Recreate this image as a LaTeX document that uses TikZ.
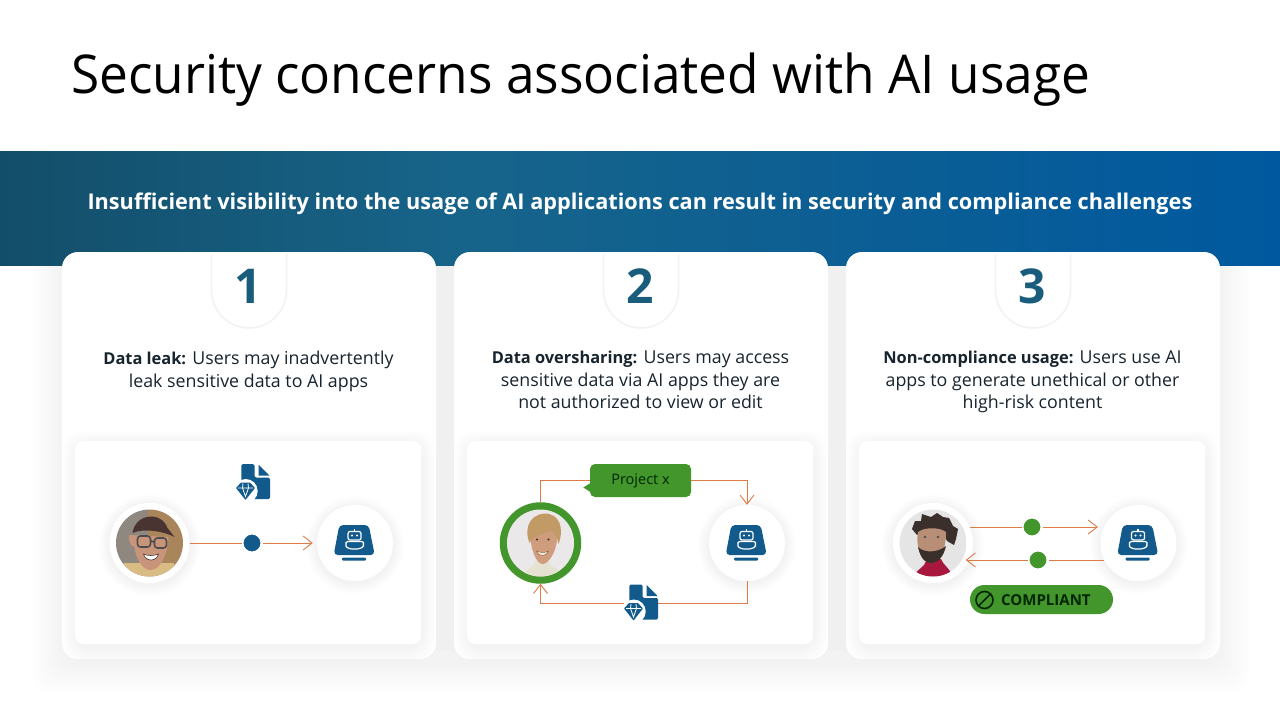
\documentclass[tikz,border=0pt]{standalone}
\usepackage{fontspec}
\setmainfont{Open Sans}
\newfontfamily\titlefont[FakeStretch=.96]{Open Sans}
\usetikzlibrary{arrows.meta}
\definecolor{blueA}{HTML}{125A8C}
\definecolor{numblue}{HTML}{195C7C}
\definecolor{greenA}{HTML}{43962B}
\definecolor{flowc}{HTML}{DE7B46}
\definecolor{inkc}{HTML}{17242E}
\definecolor{bandL}{HTML}{134E69}
\definecolor{bandM}{HTML}{17648A}
\definecolor{bandR}{HTML}{00599F}
\pgfdeclarehorizontalshading{bandshade}{100bp}{color(0bp)=(bandL); color(25bp)=(bandL); color(43bp)=(bandM); color(75bp)=(bandR); color(100bp)=(bandR)}
\tikzstyle{band} = [minimum width=1280pt, minimum height=114.6pt, inner sep=0pt, shading=bandshade]
\tikzstyle{bandtext} = [text=white, inner sep=0pt, anchor=base, font=\fontsize{21.7}{27}\selectfont\bfseries]
\tikzstyle{card} = [fill=white, rounded corners=16pt, minimum width=374pt, minimum height=407pt, inner sep=0pt]
\tikzstyle{panel} = [fill=white, rounded corners=8pt, minimum width=346pt, minimum height=203pt, inner sep=0pt]
\tikzstyle{cardtext} = [anchor=north, align=center, inner sep=0pt, text=inkc, font=\fontsize{17.8}{22.5}\selectfont]
\tikzstyle{cardnum} = [text=numblue, font=\fontsize{48}{48}\selectfont\bfseries, inner sep=0pt]
\tikzstyle{avatar} = [circle, fill=white, minimum size=80pt, inner sep=0pt]
\tikzstyle{botnode} = [circle, fill=white, minimum size=76pt, inner sep=0pt]
\tikzstyle{bluedot} = [circle, fill=blueA, draw=white, line width=2pt, minimum size=19pt, inner sep=0pt]
\tikzstyle{greendot} = [circle, fill=greenA, draw=white, line width=2pt, minimum size=19pt, inner sep=0pt]
\tikzstyle{docbox} = [minimum width=34pt, minimum height=36pt, inner sep=0pt]
\tikzstyle{flow} = [draw=flowc, line width=0.9pt]
\tikzstyle{flowarrow} = [flow, -{Straight Barb[length=9pt,width=14pt]}]

\newcommand{\leadin}[1]{{\fontsize{16.4}{22.5}\selectfont\bfseries #1}}

% soft shadows, built up from thin layers
\newcommand{\softrect}[6]{\foreach \s in {1,...,12}{\fill[black,opacity=#6,rounded corners=18pt] ({#1-#5*\s/12},{#2-#5*\s/12+4}) rectangle ({#3+#5*\s/12},{#4+#5*\s/12+4});}}
\newcommand{\softdisc}[3]{\foreach \s in {1,...,6}{\fill[black,opacity=.007] (#1,#2+2) circle ({#3+\s*1.8});}}

\newcommand{\boticon}[2]{\begin{scope}[shift={(#1,#2)}]
    \fill[blueA, rounded corners=4pt] (-15.7,-18) -- (13.7,-18) -- (19.7,12) -- (-21.3,12) -- cycle;
    \fill[blueA, rounded corners=1pt] (-13,14.5) rectangle (11,17.5);
    \draw[white, line width=1.2pt, rounded corners=2pt] (-7,-11.5) rectangle (6,-3);
    \draw[white, line width=1.2pt] (-.5,-11.5) -- (-.5,-14);
    \fill[white] (-3,-7.5) circle (1.2) (2,-7.5) circle (1.2);
    \draw[white, line width=1.2pt, rounded corners=2pt] (-9,-1.5) -- (8.5,-1.5) -- (8.5,1) .. controls (8,5) and (3,6) .. (-.5,6) .. controls (-4,6) and (-9,5) .. (-9,1) -- cycle;
\end{scope}}

\newcommand{\docicon}[2]{\begin{scope}[shift={(#1,#2)}]
    \fill[blueA, rounded corners=1.5pt] (-11.7,-17.5) -- (1.5,-17.5) -- (1.5,-7) .. controls (1.5,-5) and (3,-4) .. (5,-4) -- (17,-4) -- (17,17.5) -- (-11.7,17.5) -- cycle;
    \fill[blueA] (5.5,-17) -- (16.5,-6) -- (5.5,-6) -- cycle;
    \fill[white] (-7.3,9.5) circle (12);
    \fill[blueA, rounded corners=.6pt] (-12,1) -- (-3,1) -- (2,6.5) -- (-7.5,18.5) -- (-17,6.5) -- cycle;
    \draw[white, line width=.8pt] (-15,6.5) -- (0,6.5) (-10,2) -- (-10.5,6.5) -- (-7.5,15) -- (-4.5,6.5) -- (-5,2);
\end{scope}}

\begin{document}
\begin{tikzpicture}[x=1pt, y=-1pt]
    \useasboundingbox (0,0) rectangle (1280,720);
    \fill[white] (0,0) rectangle (1280,720);

    \node[anchor=base west, inner sep=0pt, font=\titlefont\fontsize{53.5}{60}\selectfont] (title) at (71,93) {Security concerns associated with AI usage};

    % one shadow under the whole row of cards, darker in the gaps
    \softrect{62}{252}{1220}{659}{30}{.005}
    \fill[left color=black!6, middle color=black!14, right color=black!6] (436,240) rectangle (454,650);
    \fill[left color=black!6, middle color=black!14, right color=black!6] (828,240) rectangle (846,650);

    \node[band] (band) at (640,208.3) {};
    \node[bandtext] (bandline) at (640,209) {Insufficient visibility into the usage of AI applications can result in security and compliance challenges};

    \foreach \i/\x in {1/249, 2/641, 3/1033} {
        \node[card] (card\i) at (\x,455.5) {};
        \softrect{\x-172}{441}{\x+172}{644}{14}{.004}
        \node[panel] (panel\i) at (\x-.8,542.5) {};
        \draw[fill=white, draw=black!5, line width=1.5pt] (\x-37.5,254) -- (\x-37.5,290.5) arc (180:0:37.5) -- (\x+37.5,254);
        \node[cardnum] (num\i) at (\x-1,286) {\i};
    }

    \node[cardtext] (text1) at (248.5,351) {\leadin{Data leak:} Users may inadvertently\\leak sensitive data to AI apps};
    \node[cardtext] (text2) at (640.5,351) {\leadin{Data oversharing:} Users may access\\sensitive data via AI apps they are\\not authorized to view or edit};
    \node[cardtext] (text3) at (1032.5,351) {\leadin{Non-compliance usage:} Users use AI\\apps to generate unethical or other\\high-risk content};

    % panel 1
    \softdisc{149.5}{543}{40}
    \softdisc{355}{543}{38}
    \node[avatar] (user1) at (149.5,543) {};
    \node[botnode] (bot1) at (355,543) {};
    \definecolor{bgA}{HTML}{8E8880}
    \definecolor{bgB}{HTML}{A9855C}
    \definecolor{shirtA}{HTML}{D8BC84}
    \definecolor{skinA}{HTML}{C9957A}
    \definecolor{capA}{HTML}{4A3432}
    \begin{scope}[shift={(149.5,543)}]
        \clip (0,0) circle (33.5);
        \fill[bgA] (-34,-34) rectangle (-2,34);
        \fill[bgB] (-2,-34) rectangle (34,34);
        \fill[shirtA] (-26,20) rectangle (24,34);
        \fill[skinA] (-20,-8) .. controls (-22,-4) and (-19,4) .. (-15,4) .. controls (-14,14) and (-8,27) .. (1,27) .. controls (11,27) and (18,12) .. (19,-6) -- cycle;
        \fill[capA] (-17,-10) .. controls (-14,-30) and (12,-32) .. (18,-15) -- (25,-6) .. controls (14,-12) and (-6,-15) .. (-17,-10) -- cycle;
        \draw[black!70, line width=1.6pt, rounded corners=3pt] (-12,-7) rectangle (1,4) (5,-5) rectangle (17,5) (1,-2) -- (5,-1);
        \fill[white, draw=capA, line width=.6pt] (-6,11) .. controls (-2,13) and (4,13) .. (9,11) .. controls (7,19) and (-4,19) .. (-6,11) -- cycle;
    \end{scope}
    \node[bluedot] (dot1) at (252,543) {};
    \draw[flow] (user1) -- (dot1);
    \draw[flowarrow, shorten >=4pt] (dot1) -- (bot1.west);
    \boticon{355}{543}
    \node[docbox] (doc1) at (253,481.5) {};
    \docicon{253}{481.5}

    % panel 2
    \softdisc{747}{543}{38}
    \node[avatar, draw=greenA, line width=7.5pt, minimum size=74pt] (user2) at (540.5,543) {};
    \node[botnode] (bot2) at (747,543) {};
    \definecolor{bgC}{HTML}{EBE8EA}
    \definecolor{shirtC}{HTML}{E6E2D2}
    \definecolor{skinC}{HTML}{D09C7E}
    \definecolor{hairC}{HTML}{C29A66}
    \begin{scope}[shift={(540.5,543)}]
        \clip (0,0) circle (33.5);
        \fill[bgC] (-34,-34) rectangle (34,34);
        \fill[shirtC] (-20,34) .. controls (-14,25) and (-5,24) .. (-5,18) -- (8,18) .. controls (8,24) and (18,25) .. (25,34) -- cycle;
        \fill[skinC] (-10,-13) .. controls (-11,6) and (-4,21) .. (2,21) .. controls (9,21) and (18,6) .. (17,-13) -- cycle;
        \fill[hairC] (-11,0) .. controls (-16,-12) and (-13,-28) .. (4,-29.5) .. controls (19,-29.5) and (24,-15) .. (18,1) .. controls (17,-6) and (14,-11) .. (10,-13) .. controls (4,-8) and (-6,-10) .. (-11,0) -- cycle;
        \fill[black!65!brown] (-3.5,-3.5) circle (1.2) (8,-3.5) circle (1.2);
        \fill[white!85!brown, draw=brown!70!black, line width=.4pt] (-4,8) .. controls (0,10) and (5,10) .. (8,8) .. controls (6,14) and (-2,14) .. (-4,8) -- cycle;
    \end{scope}
    \node[fill=greenA, rounded corners=5pt, minimum width=101pt, minimum height=33pt, inner sep=0pt, text=black!85!green, font=\fontsize{14.5}{17}\selectfont] (bubble) at (640.5,480.5) {Project x};
    \fill[greenA] (590.5,483) -- (583.3,487.5) -- (590.5,492) -- cycle;
    \node[docbox] (doc2) at (641,603) {};
    \draw[flow] (user2.north) |- (bubble.west);
    \draw[flowarrow] (bubble.east) -| (bot2.north);
    \draw[flow] (bot2.south) |- (doc2.east);
    \draw[flowarrow] (doc2.west) -| (user2.south);
    \boticon{747}{543}
    \docicon{641}{602}

    % panel 3
    \softdisc{933}{543}{40}
    \softdisc{1138.5}{543}{38}
    \node[avatar] (user3) at (933,543) {};
    \node[botnode] (bot3) at (1138.5,543) {};
    \definecolor{skinD}{HTML}{B88E76}
    \definecolor{hairD}{HTML}{3A2F2A}
    \definecolor{jacketD}{HTML}{A8173D}
    \begin{scope}[shift={(933,543)}]
        \clip (0,0) circle (33.5);
        \fill[black!10] (-34,-34) rectangle (34,34);
        \fill[jacketD] (-20,34) .. controls (-16,26) and (-8,24) .. (-7,18) -- (8,16) .. controls (10,22) and (16,24) .. (20,34) -- cycle;
        \fill[hairD] (-21,-14) -- (-18,-22) -- (-12,-22) -- (-11,-29) -- (-2,-26) -- (4,-30) -- (10,-26) -- (16,-25) -- (20,-17) -- (25,-14) -- (23,-4) -- (21,2) -- (14,-2) -- (11,-8) -- (-13,-10) -- (-16,-8) -- cycle;
        \fill[skinD] (-15,-11) .. controls (-18,6) and (-10,19) .. (-2,20) .. controls (6,20) and (13,8) .. (13,-11) .. controls (6,-16) and (-8,-16) .. (-15,-11) -- cycle;
        \fill[hairD] (-15,4) .. controls (-12,18) and (-6,20) .. (-2,20) .. controls (6,20) and (11,12) .. (13,3) .. controls (6,9) and (-8,11) .. (-15,4) -- cycle;
        \fill[black!70] (-8,-6) circle (1.3) (5,-6) circle (1.3);
    \end{scope}
    \node[greendot] (dot3a) at (1032,527) {};
    \node[greendot] (dot3b) at (1038,560) {};
    \draw[flow] (user3.24 |- dot3a) -- (dot3a);
    \draw[flowarrow, shorten >=6pt] (dot3a) -- (bot3.155 |- dot3a);
    \draw[flow] (bot3.205 |- dot3b) -- (dot3b);
    \draw[flowarrow, shorten >=-4pt] (dot3b) -- (user3.-24 |- dot3b);
    \boticon{1138.5}{543}
    \node[fill=greenA, rounded corners=14.5pt, minimum width=143pt, minimum height=29pt, inner sep=0pt] (badge) at (1041.5,599.5) {};
    \node[circle, draw=black!85!green, line width=1.6pt, minimum size=17pt, inner sep=0pt] (noicon) at (984.5,600) {};
    \draw[black!85!green, line width=1.6pt] (noicon.45) -- (noicon.225);
    \node[anchor=west, inner sep=0pt, text=black!85!green, font=\fontsize{15}{17}\selectfont\bfseries] (badgetext) at (1001,600) {COMPLIANT};
\end{tikzpicture}
\end{document}
